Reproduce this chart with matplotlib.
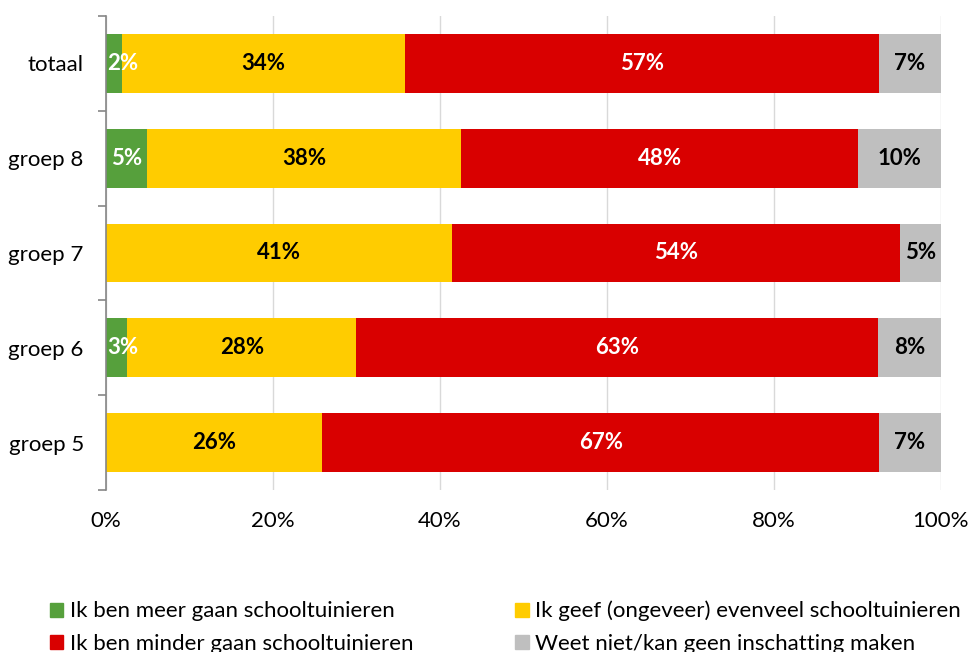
import matplotlib
matplotlib.use('Agg')
import matplotlib.pyplot as plt
from matplotlib.patches import Patch
import numpy as np

plt.rcParams['font.family'] = ['Lato', 'DejaVu Sans']

# data, top to bottom as in the chart
groups = ['totaal', 'groep 8', 'groep 7', 'groep 6', 'groep 5']
meer = [1.9, 4.9, 0.0, 2.5, 0.0]
evenveel = [33.9, 37.6, 41.4, 27.5, 25.9]
minder = [56.8, 47.6, 53.7, 62.5, 66.7]
weet_niet = [7.4, 9.9, 4.9, 7.5, 7.4]

series_names = ['Ik ben meer gaan schooltuinieren',
                'Ik geef (ongeveer) evenveel schooltuinieren',
                'Ik ben minder gaan schooltuinieren',
                'Weet niet/kan geen inschatting maken']
colors = ['#56A03C', '#FFCC00', '#D90000', '#BFBFBF']
label_colors = ['white', 'black', 'white', 'black']
xticks = [0, 20, 40, 60, 80, 100]

fig = plt.figure(figsize=(9.7, 6.52), dpi=100)
ax = fig.add_axes([0.1093, 0.2485, 0.8607, 0.727])

y = np.arange(len(groups))
left = np.zeros(len(groups))
for vals, col, lcol in zip([meer, evenveel, minder, weet_niet], colors, label_colors):
    vals = np.array(vals)
    ax.barh(y, vals, left=left, height=0.62, color=col, zorder=2)
    for yi, l, v in zip(y, left, vals):
        if v <= 0:
            continue
        txt = '%d%%' % int(v + 0.5)
        if v < 4:
            ax.text(l + 0.15, yi, txt, ha='left', va='center', color=lcol,
                    fontsize=16, fontweight='bold', zorder=3)
        else:
            ax.text(l + v / 2, yi, txt, ha='center', va='center', color=lcol,
                    fontsize=16, fontweight='bold', zorder=3)
    left = left + vals

ax.set_xlim(0, 100)
ax.set_ylim(len(groups) - 0.5, -0.5)
ax.set_yticks(y)
ax.set_yticklabels(groups, fontsize=16)
ax.set_yticks(np.arange(-0.5, len(groups), 1), minor=True)
ax.tick_params(axis='y', which='major', length=0, pad=16)
ax.tick_params(axis='y', which='minor', length=6, width=1.2, color='#868686')
ax.set_xticks(xticks)
ax.set_xticklabels(['%d%%' % t for t in xticks], fontsize=16)
ax.tick_params(axis='x', length=0, pad=15)
ax.grid(axis='x', color='#D9D9D9', lw=1, zorder=0)
for s in ['top', 'right', 'bottom']:
    ax.spines[s].set_visible(False)
ax.spines['left'].set_color('#868686')
ax.spines['left'].set_linewidth(1.2)
ax.spines['left'].set_zorder(4)

handles = [Patch(color=c) for c in colors]
order = [0, 2, 1, 3]
fig.legend([handles[i] for i in order], [series_names[i] for i in order],
           loc='upper left', bbox_to_anchor=(0.042, 0.092), ncol=2,
           frameon=False, fontsize=16, handlelength=0.6, handleheight=0.6,
           handletextpad=0.3, columnspacing=4.6, labelspacing=0.55,
           borderaxespad=0, bbox_transform=fig.transFigure)

fig.savefig('out.png', dpi=100)
